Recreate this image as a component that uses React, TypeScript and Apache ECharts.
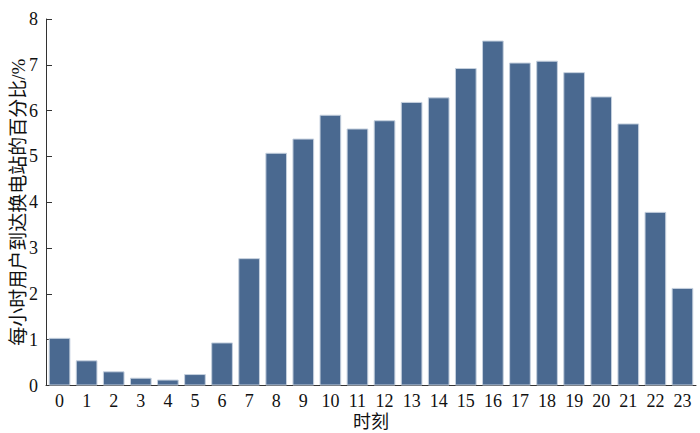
import React, { useEffect, useRef } from "react";
import * as echarts from "echarts";

const hours = ["0","1","2","3","4","5","6","7","8","9","10","11","12","13","14","15","16","17","18","19","20","21","22","23"];
const percents = [1.04, 0.55, 0.31, 0.17, 0.13, 0.25, 0.94, 2.78, 5.08, 5.39, 5.91, 5.61, 5.79, 6.19, 6.29, 6.93, 7.53, 7.05, 7.09, 6.84, 6.31, 5.72, 3.79, 2.13];
const yTicks = [0, 1, 2, 3, 4, 5, 6, 7, 8];

const font = "Liberation Serif, Noto Sans CJK SC, serif";

export default function App() {
  const ref = useRef<HTMLDivElement>(null);
  useEffect(() => {
    const chart = echarts.init(ref.current!, null, { renderer: "svg" });
    chart.setOption({
      animation: false,
      backgroundColor: "#ffffff",
      grid: { left: 46, right: 4, top: 19, bottom: 47.5, containLabel: false, outerBoundsMode: "none" },
      xAxis: {
        type: "category",
        data: hours,
        name: "时刻",
        nameLocation: "middle",
        nameGap: 27,
        nameMoveOverlap: false,
        nameTextStyle: { fontFamily: font, fontSize: 18, color: "#111" },
        axisLine: { lineStyle: { color: "#333", width: 1 } },
        axisTick: { show: true, inside: true, alignWithLabel: true, length: 5, lineStyle: { color: "#333" } },
        axisLabel: { fontFamily: font, fontSize: 18, color: "#111", margin: 6, interval: 0 },
      },
      yAxis: {
        type: "value",
        min: yTicks[0],
        max: yTicks[yTicks.length - 1],
        interval: 1,
        name: "每小时用户到达换电站的百分比/%",
        nameLocation: "middle",
        nameGap: 18,
        nameMoveOverlap: false,
        nameTextStyle: { fontFamily: font, fontSize: 19, color: "#111" },
        axisLine: { show: true, lineStyle: { color: "#333", width: 1 } },
        axisTick: { show: true, inside: true, length: 6, lineStyle: { color: "#333" } },
        axisLabel: { fontFamily: font, fontSize: 18, color: "#111", margin: 8 },
        splitLine: { show: false },
      },
      series: [
        {
          type: "bar",
          data: percents,
          barCategoryGap: "20%",
          itemStyle: { color: "#4a6990", borderColor: "#c5d0de", borderWidth: 1 },
        },
      ],
    });
    return () => chart.dispose();
  }, []);
  return <div ref={ref} style={{ width: 700, height: 433, position: "absolute", left: 0, top: 0 }} />;
}
